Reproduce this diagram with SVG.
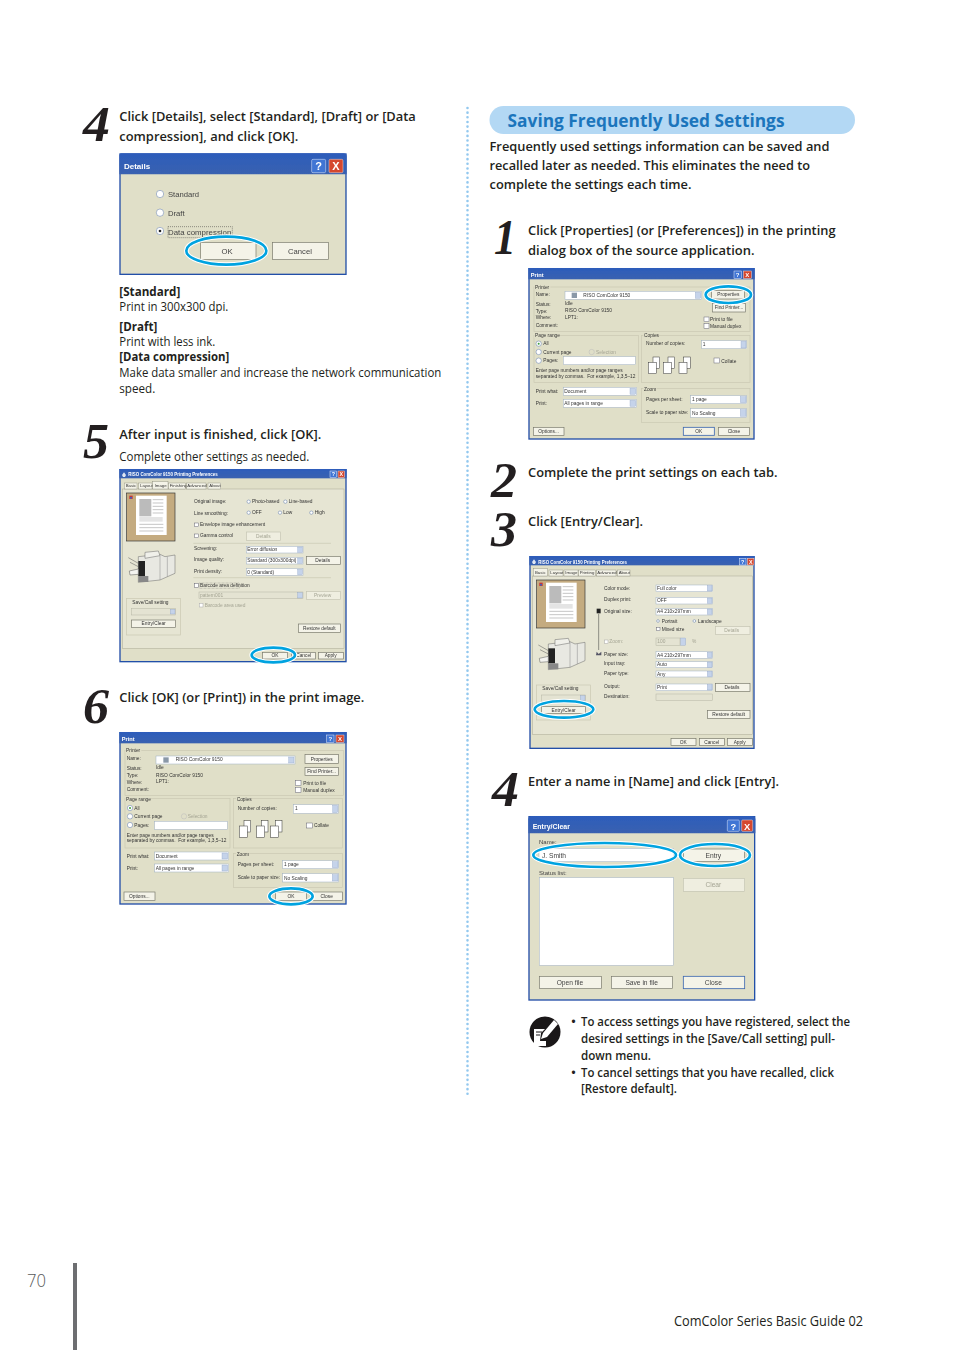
<svg xmlns="http://www.w3.org/2000/svg" xmlns:xlink="http://www.w3.org/1999/xlink" width="954" height="1350" viewBox="0 0 954 1350">
<style>
.p{font-family:"Open Sans","Noto Sans","Liberation Sans",sans-serif;font-size:13.2px;fill:#231f20}
.s{font-weight:600}.bd{font-weight:700}
.n{font-family:"Liberation Serif",serif;font-size:50px;font-weight:700;font-style:italic;fill:#231f20}
.win{fill:#e0dfc8;stroke:#2450a8;stroke-width:4}
.title{fill:url(#tg)}
.tt{font-family:"Liberation Sans",sans-serif;font-weight:700;fill:#fff;font-size:17px}
.t{font-family:"Liberation Sans",sans-serif;font-size:14.5px;fill:#333}
.t2{font-family:"Liberation Sans",sans-serif;font-size:20px;fill:#444}
.dis{fill:#a5a594}
.f{fill:#fff;stroke:#9fb0c4;stroke-width:1.5}
.fd{fill:#e4e3d2;stroke:#b5b5a4;stroke-width:1.5}
.b{fill:#f4f3e8;stroke:#77776a;stroke-width:2}
.bb{fill:#f4f3e8;stroke:#3e68b0;stroke-width:2.5}
.bdz{fill:#efeee0;stroke:#c4c4b2;stroke-width:2}
.g{fill:none;stroke:#c9c8b2;stroke-width:2}
.pan{fill:#e6e5d3;stroke:#a9a996;stroke-width:1.5}
.ck{fill:#fff;stroke:#667;stroke-width:1.5}
.r{fill:#fff;stroke:#5c78a8;stroke-width:1.5}
.ar{fill:#c5d3ea;stroke:#8aa0c4;stroke-width:1}
.help{fill:#3f74d4;stroke:#e8eefc;stroke-width:1.5}
.close{fill:#d5472e;stroke:#f3dcd4;stroke-width:1.5}
.gl{font-family:"Liberation Sans",sans-serif;font-weight:700;fill:#fff;text-anchor:middle}
.h{fill:none;stroke:#fff;stroke-width:14}
.c{fill:none;stroke:#00a3e0;stroke-width:8}
.pg{fill:#fff;stroke:#333;stroke-width:1.5}
.ln{stroke:#c6c6c6;stroke-width:3}
.m{text-anchor:middle}
</style>
<defs>
<linearGradient id="tg" x1="0" y1="0" x2="0" y2="1"><stop offset="0" stop-color="#2c5cbb"/><stop offset="1" stop-color="#3a62b0"/></linearGradient>
<filter id="bl" filterUnits="userSpaceOnUse" x="0" y="0" width="800" height="700"><feGaussianBlur stdDeviation="1.3"/></filter>
<filter id="bl2" filterUnits="userSpaceOnUse" x="0" y="0" width="1000" height="700"><feGaussianBlur stdDeviation="1"/></filter>
<g id="mfp">
<path d="M85 275 L150 268 L165 275 L195 270 L195 325 L150 345 L85 352 Z" fill="#e8e8e2" stroke="#666" stroke-width="1.5"/>
<rect x="85" y="288" width="20" height="45" fill="#222"/>
<rect x="85" y="333" width="30" height="18" fill="#888"/>
<path d="M55 278 L85 295 M60 292 L85 305 M58 318 L85 312 L85 328 L60 330Z" fill="#f4f4f0" stroke="#555" stroke-width="1.5"/>
<path d="M105 262 L145 258 L150 272 L105 280Z" fill="#f0f0ea" stroke="#666" stroke-width="1.5"/>
<path d="M150 272 L150 345 M172 275 L172 335" stroke="#888" stroke-width="1.5" fill="none"/>
</g>
<g id="prev">
<rect x="50" y="84" width="145" height="144" fill="#c4ab80" stroke="#333" stroke-width="2"/>
<rect x="78" y="92" width="92" height="118" fill="#fff"/>
<rect x="88" y="102" width="36" height="52" fill="#bbb"/>
<rect x="88" y="156" width="70" height="14" fill="#e4e4e4"/>
<path class="ln" d="M128 104H160M128 114H160M128 124H160M128 134H160M128 144H160M88 178H160M88 188H160M88 198H160"/>
<rect x="58" y="92" width="10" height="10" fill="#c33"/><circle cx="63" cy="98" r="3" fill="#36c"/>
</g>
<g id="pgs">
<rect x="14" y="0" width="20" height="34" class="pg"/><rect x="0" y="16" width="24" height="34" class="pg"/>
</g>
<path id="ticon" d="M0 10L6 2L12 10L9 16H3Z" fill="#dfe6f2"/>
</defs>

<rect width="954" height="1350" fill="#fff"/>

<g id="divider"><path d="M467.5 108V1097" stroke="#93c8ef" stroke-width="2.6" stroke-linecap="round" stroke-dasharray="0 4.65" fill="none"/></g>

<g id="left-step-4">
<text class="n" x="83" y="141" textLength="27" lengthAdjust="spacingAndGlyphs">4</text>
<text class="p s" x="119.3" y="121" textLength="296.5" lengthAdjust="spacingAndGlyphs">Click [Details], select [Standard], [Draft] or [Data</text>
<text class="p s" x="119.3" y="141" textLength="179" lengthAdjust="spacingAndGlyphs">compression], and click [OK].</text>
<text class="p bd" x="119.3" y="296" textLength="61" lengthAdjust="spacingAndGlyphs">[Standard]</text>
<text class="p" x="119.3" y="311" textLength="109" lengthAdjust="spacingAndGlyphs">Print in 300x300 dpi.</text>
<text class="p bd" x="119.3" y="331" textLength="38" lengthAdjust="spacingAndGlyphs">[Draft]</text>
<text class="p" x="119.3" y="346" textLength="96" lengthAdjust="spacingAndGlyphs">Print with less ink.</text>
<text class="p bd" x="119.3" y="361" textLength="110" lengthAdjust="spacingAndGlyphs">[Data compression]</text>
<text class="p" x="119.3" y="377" textLength="322" lengthAdjust="spacingAndGlyphs">Make data smaller and increase the network communication</text>
<text class="p" x="119.3" y="393" textLength="36" lengthAdjust="spacingAndGlyphs">speed.</text>
</g>

<g id="dialog-details" transform="translate(70,95) scale(.33333)"><g filter="url(#bl2)">
<rect class="win" x="150" y="177" width="678" height="361"/>
<path class="title" d="M148 238V182Q148 175 155 175H820Q830 175 830 185V238Z"/>
<text class="tt" x="162" y="221" style="font-size:24px">Details</text>
<rect class="help" x="725" y="193" width="42" height="40" rx="4"/><text class="gl" x="746" y="226" font-size="33">?</text>
<rect class="close" x="777" y="193" width="42" height="40" rx="4"/><text class="gl" x="798" y="226" font-size="33">X</text>
<circle class="r" cx="270" cy="297" r="11"/><text class="t2" x="294" y="307" style="font-size:23px">Standard</text>
<circle class="r" cx="270" cy="353" r="11"/><text class="t2" x="294" y="364" style="font-size:23px">Draft</text>
<circle class="r" cx="270" cy="408" r="11"/><circle cx="270" cy="408" r="4" fill="#222"/><text class="t2" x="294" y="419" style="font-size:23px" textLength="190" lengthAdjust="spacingAndGlyphs">Data compression</text>
<rect x="294" y="395" width="193" height="33" fill="none" stroke="#333" stroke-width="1.5" stroke-dasharray="3 3"/>
<rect class="b" x="392" y="442" width="166" height="52"/><text class="t2 m" x="471" y="477" style="font-size:23px">OK</text>
<rect class="b" x="608" y="442" width="167" height="52"/><text class="t2 m" x="690" y="477" style="font-size:23px">Cancel</text>
</g>
<ellipse class="h" cx="469" cy="467" rx="120" ry="42"/><ellipse class="c" cx="469" cy="467" rx="120" ry="42"/>
</g>

<g id="left-step-5">
<text class="n" x="83" y="458" textLength="26" lengthAdjust="spacingAndGlyphs">5</text>
<text class="p s" x="119.3" y="439" textLength="202" lengthAdjust="spacingAndGlyphs">After input is finished, click [OK].</text>
<text class="p" x="119.3" y="461" textLength="190" lengthAdjust="spacingAndGlyphs">Complete other settings as needed.</text>
</g>

<g id="dialog-image" transform="translate(110,465) scale(.33333)"><g filter="url(#bl)">
<rect class="win" x="30" y="14" width="678" height="576"/>
<rect class="title" x="28" y="12" width="682" height="28"/>
<use href="#ticon" xlink:href="#ticon" x="36" y="20"/>
<text class="tt" x="55" y="34" style="font-size:13.5px" textLength="268" lengthAdjust="spacingAndGlyphs">RISO ComColor 9150 Printing Preferences</text>
<rect class="help" x="660" y="18" width="20" height="20"/><text class="gl" x="670" y="34" font-size="16">?</text>
<rect class="close" x="684" y="18" width="20" height="20"/><text class="gl" x="694" y="34" font-size="16">X</text>
<rect class="pan" x="38" y="72" width="664" height="478"/>
<rect class="b" x="43" y="54" width="38" height="18" style="stroke-width:1"/><text class="t" x="47" y="67" style="font-size:13px">Basic</text>
<rect class="b" x="86" y="54" width="40" height="18" style="stroke-width:1"/><text class="t" x="90" y="67" style="font-size:13px">Layout</text>
<rect class="b" x="128" y="50" width="46" height="22" style="stroke-width:1"/><text class="t" x="134" y="65" style="font-size:13px">Image</text>
<rect class="b" x="176" y="54" width="50" height="18" style="stroke-width:1"/><text class="t" x="179" y="67" style="font-size:13px">Finishing</text>
<rect class="b" x="230" y="54" width="58" height="18" style="stroke-width:1"/><text class="t" x="232" y="67" style="font-size:13px">Advanced</text>
<rect class="b" x="294" y="54" width="38" height="18" style="stroke-width:1"/><text class="t" x="298" y="67" style="font-size:13px">About</text>
<use href="#prev" xlink:href="#prev"/>
<use href="#mfp" xlink:href="#mfp"/>
<text class="t" x="252" y="115">Original image:</text>
<circle class="r" cx="416" cy="110" r="5"/><text class="t" x="426" y="115">Photo-based</text>
<circle class="r" cx="526" cy="110" r="5"/><text class="t" x="536" y="115">Line-based</text>
<text class="t" x="252" y="149">Line smoothing:</text>
<circle class="r" cx="416" cy="143" r="5"/><text class="t" x="426" y="148">OFF</text>
<circle class="r" cx="510" cy="143" r="5"/><text class="t" x="520" y="148">Low</text>
<circle class="r" cx="604" cy="143" r="5"/><text class="t" x="614" y="148">High</text>
<rect class="ck" x="254" y="174" width="11" height="11"/><text class="t" x="270" y="184">Envelope image enhancement</text>
<rect class="ck" x="254" y="207" width="11" height="11"/><text class="t" x="270" y="217">Gamma control</text>
<rect class="bdz" x="409" y="201" width="103" height="25"/><text class="t dis m" x="460" y="218">Details</text>
<path d="M250 235H663M250 338H663" stroke="#c9c8b2" stroke-width="2"/>
<text class="t" x="252" y="254">Screening:</text>
<rect class="f" x="409" y="244" width="170" height="20"/><rect class="ar" x="563" y="246" width="14" height="16"/><text class="t" x="412" y="259">Error diffusion</text>
<text class="t" x="252" y="289">Image quality:</text>
<rect class="f" x="409" y="277" width="170" height="20"/><rect class="ar" x="563" y="279" width="14" height="16"/><text class="t" x="412" y="292">Standard (300x300dpi)</text>
<rect class="b" x="589" y="274" width="103" height="25"/><text class="t m" x="638" y="291">Details</text>
<text class="t" x="252" y="324">Print density:</text>
<rect class="f" x="409" y="311" width="170" height="20"/><rect class="ar" x="563" y="313" width="14" height="16"/><text class="t" x="412" y="326">0 (Standard)</text>
<rect class="ck" x="254" y="356" width="11" height="11"/><text class="t" x="270" y="366">Barcode area definition</text>
<rect x="268" y="354" width="120" height="16" fill="none" stroke="#555" stroke-dasharray="2 2"/>
<rect class="fd" x="267" y="381" width="312" height="20"/><rect class="ar" x="563" y="383" width="14" height="16"/><text class="t dis" x="270" y="396">pattern001</text>
<rect class="bdz" x="589" y="379" width="103" height="25"/><text class="t dis m" x="638" y="396">Preview</text>
<rect class="ck" x="268" y="415" width="11" height="11" style="stroke:#aaa"/><text class="t dis" x="284" y="426">Barcode area used</text>
<rect class="g" x="50" y="400" width="162" height="110"/>
<text class="t" x="67" y="416">Save/Call setting</text>
<rect class="fd" x="65" y="430" width="132" height="20"/><rect class="ar" x="181" y="433" width="14" height="14"/>
<rect class="b" x="65" y="465" width="132" height="23"/><text class="t m" x="131" y="480">Entry/Clear</text>
<rect class="b" x="565" y="477" width="127" height="25"/><text class="t m" x="628" y="494">Restore default</text>
<rect class="b" x="458" y="562" width="75" height="20"/><text class="t m" x="495" y="577">OK</text>
<rect class="b" x="545" y="562" width="72" height="20"/><text class="t m" x="581" y="577">Cancel</text>
<rect class="b" x="625" y="562" width="75" height="20"/><text class="t m" x="662" y="577">Apply</text>
</g>
<ellipse class="h" cx="490" cy="570" rx="65" ry="22"/><ellipse class="c" cx="490" cy="570" rx="65" ry="22"/>
</g>

<g id="left-step-6">
<text class="n" x="83" y="723" textLength="26" lengthAdjust="spacingAndGlyphs">6</text>
<text class="p s" x="119.3" y="702" textLength="245" lengthAdjust="spacingAndGlyphs">Click [OK] (or [Print]) in the print image.</text>
</g>

<g id="dialog-print-left" transform="translate(110,728) scale(.33333)"><g filter="url(#bl)">
<rect class="win" x="30" y="14" width="678" height="514"/>
<rect class="title" x="28" y="12" width="682" height="34"/>
<text class="tt" x="35" y="40">Print</text>
<rect class="help" x="650" y="21" width="22" height="22"/><text class="gl" x="661" y="39" font-size="18">?</text>
<rect class="close" x="678" y="21" width="24" height="22"/><text class="gl" x="690" y="39" font-size="18">X</text>
<rect class="g" x="45" y="67" width="655" height="136"/><rect x="46" y="60" width="48" height="14" fill="#e0dfc8"/><text class="t" x="48" y="73">Printer</text>
<text class="t" x="50" y="97">Name:</text><rect class="f" x="138" y="84" width="417" height="24"/><rect class="ar" x="536" y="87" width="16" height="18"/><rect x="160" y="88" width="16" height="16" fill="#8a98a8"/><text class="t" x="197" y="100">RISO ComColor 9150</text>
<rect class="b" x="585" y="80" width="101" height="26"/><text class="t m" x="635" y="98">Properties</text>
<rect class="b" x="585" y="118" width="101" height="25"/><text class="t m" x="635" y="135">Find Printer...</text>
<text class="t" x="50" y="127">Status:</text><text class="t" x="138" y="124">Idle</text>
<text class="t" x="50" y="148">Type:</text><text class="t" x="138" y="146">RISO ComColor 9150</text>
<text class="t" x="50" y="167">Where:</text><text class="t" x="138" y="165">LPT1:</text>
<text class="t" x="50" y="190">Comment:</text>
<rect class="ck" x="556" y="158" width="17" height="15"/><text class="t" x="580" y="170">Print to file</text>
<rect class="ck" x="556" y="178" width="17" height="15"/><text class="t" x="580" y="191">Manual duplex</text>
<rect class="g" x="45" y="212" width="315" height="148"/><rect x="46" y="206" width="76" height="14" fill="#e0dfc8"/><text class="t" x="48" y="220">Page range</text>
<circle class="r" cx="60" cy="240" r="8"/><circle cx="60" cy="240" r="3" fill="#3a9a3a"/><text class="t" x="73" y="245">All</text>
<circle class="r" cx="60" cy="265" r="8"/><text class="t" x="73" y="270">Current page</text>
<circle class="r" cx="222" cy="265" r="8" style="stroke:#bbb;fill:none"/><text class="t dis" x="233" y="270">Selection</text>
<circle class="r" cx="60" cy="291" r="8"/><text class="t" x="73" y="296">Pages:</text>
<rect class="f" x="134" y="280" width="218" height="24"/>
<text class="t" x="50" y="326">Enter page numbers and/or page ranges</text>
<text class="t" x="50" y="343" xml:space="preserve">separated by commas.  For example, 1,3,5–12</text>
<rect class="g" x="370" y="212" width="328" height="148"/><rect x="378" y="206" width="46" height="14" fill="#e0dfc8"/><text class="t" x="380" y="220">Copies</text>
<text class="t" x="383" y="245">Number of copies:</text>
<rect class="f" x="550" y="230" width="135" height="26"/><rect class="ar" x="668" y="232" width="15" height="22"/><text class="t" x="555" y="247">1</text>
<use href="#pgs" xlink:href="#pgs" x="388" y="278"/><use href="#pgs" xlink:href="#pgs" x="440" y="278"/><use href="#pgs" xlink:href="#pgs" x="482" y="278"/>
<rect class="ck" x="590" y="285" width="17" height="15"/><text class="t" x="612" y="298">Collate</text>
<text class="t" x="50" y="389">Print what:</text><rect class="f" x="134" y="372" width="222" height="24"/><rect class="ar" x="336" y="375" width="17" height="18"/><text class="t" x="137" y="389">Document</text>
<text class="t" x="50" y="425">Print:</text><rect class="f" x="134" y="408" width="222" height="24"/><rect class="ar" x="336" y="411" width="17" height="18"/><text class="t" x="137" y="425">All pages in range</text>
<rect class="g" x="370" y="376" width="328" height="102"/><rect x="378" y="370" width="40" height="14" fill="#e0dfc8"/><text class="t" x="380" y="383">Zoom</text>
<text class="t" x="383" y="413">Pages per sheet:</text><rect class="f" x="518" y="398" width="168" height="24"/><rect class="ar" x="667" y="401" width="17" height="18"/><text class="t" x="522" y="415">1 page</text>
<text class="t" x="383" y="452">Scale to paper size:</text><rect class="f" x="518" y="437" width="168" height="25"/><rect class="ar" x="667" y="440" width="17" height="19"/><text class="t" x="522" y="455">No Scaling</text>
<rect class="b" x="42" y="492" width="93" height="26"/><text class="t m" x="88" y="510">Options...</text>
<rect class="b" x="497" y="492" width="93" height="26"/><text class="t m" x="543" y="510">OK</text>
<rect class="b" x="604" y="492" width="93" height="26"/><text class="t m" x="650" y="510">Close</text>
</g>
<ellipse class="h" cx="543" cy="505" rx="65" ry="24"/><ellipse class="c" cx="543" cy="505" rx="65" ry="24"/>
</g>

<g id="heading">
<rect x="489.5" y="106" width="365.5" height="28" rx="14" fill="#b3d8f4"/>
<text x="507.5" y="127" font-family="'Open Sans','Noto Sans',sans-serif" font-size="18.5" font-weight="700" fill="#1b75bc" textLength="277" lengthAdjust="spacingAndGlyphs">Saving Frequently Used Settings</text>
</g>
<g id="intro">
<text class="p s" x="489.5" y="151" textLength="340" lengthAdjust="spacingAndGlyphs">Frequently used settings information can be saved and</text>
<text class="p s" x="489.5" y="170" textLength="320.5" lengthAdjust="spacingAndGlyphs">recalled later as needed. This eliminates the need to</text>
<text class="p s" x="489.5" y="189" textLength="202" lengthAdjust="spacingAndGlyphs">complete the settings each time.</text>
</g>
<g id="right-step-1">
<text class="n" x="494" y="254" textLength="22" lengthAdjust="spacingAndGlyphs">1</text>
<text class="p s" x="528" y="235" textLength="307.5" lengthAdjust="spacingAndGlyphs">Click [Properties] (or [Preferences]) in the printing</text>
<text class="p s" x="528" y="255" textLength="226.5" lengthAdjust="spacingAndGlyphs">dialog box of the source application.</text>
</g>

<g id="dialog-print-right" transform="translate(520,262) scale(.33333)"><g filter="url(#bl)">
<rect class="win" x="27" y="20" width="675" height="511"/>
<rect class="title" x="25" y="18" width="679" height="34"/>
<text class="tt" x="32" y="45">Print</text>
<rect class="help" x="642" y="27" width="22" height="22"/><text class="gl" x="653" y="45" font-size="18">?</text>
<rect class="close" x="670" y="27" width="24" height="22"/><text class="gl" x="682" y="45" font-size="18">X</text>
<rect class="g" x="42" y="75" width="648" height="133"/><rect x="43" y="68" width="48" height="14" fill="#e0dfc8"/><text class="t" x="45" y="81">Printer</text>
<text class="t" x="47" y="103">Name:</text><rect class="f" x="135" y="88" width="410" height="24"/><rect class="ar" x="526" y="91" width="16" height="18"/><rect x="155" y="92" width="16" height="16" fill="#8a98a8"/><text class="t" x="190" y="105">RISO ComColor 9150</text>
<rect class="b" x="575" y="86" width="98" height="25"/><text class="t m" x="625" y="103">Properties</text>
<rect class="b" x="577" y="125" width="100" height="25"/><text class="t m" x="627" y="142">Find Printer...</text>
<text class="t" x="47" y="133">Status:</text><text class="t" x="135" y="130">Idle</text>
<text class="t" x="47" y="153">Type:</text><text class="t" x="135" y="151">RISO ComColor 9150</text>
<text class="t" x="47" y="172">Where:</text><text class="t" x="135" y="170">LPT1:</text>
<text class="t" x="47" y="196">Comment:</text>
<rect class="ck" x="552" y="165" width="15" height="14"/><text class="t" x="570" y="176">Print to file</text>
<rect class="ck" x="552" y="185" width="15" height="14"/><text class="t" x="570" y="197">Manual duplex</text>
<rect class="g" x="42" y="220" width="313" height="142"/><rect x="43" y="214" width="76" height="14" fill="#e0dfc8"/><text class="t" x="45" y="226">Page range</text>
<circle class="r" cx="56" cy="245" r="8"/><circle cx="56" cy="245" r="3" fill="#3a9a3a"/><text class="t" x="70" y="250">All</text>
<circle class="r" cx="56" cy="270" r="8"/><text class="t" x="70" y="275">Current page</text>
<circle class="r" cx="215" cy="270" r="8" style="stroke:#bbb;fill:none"/><text class="t dis" x="228" y="275">Selection</text>
<circle class="r" cx="56" cy="296" r="8"/><text class="t" x="70" y="301">Pages:</text>
<rect class="f" x="130" y="284" width="216" height="24"/>
<text class="t" x="47" y="331">Enter page numbers and/or page ranges</text>
<text class="t" x="47" y="347" xml:space="preserve">separated by commas.  For example, 1,3,5–12</text>
<rect class="g" x="364" y="220" width="326" height="142"/><rect x="370" y="214" width="46" height="14" fill="#e0dfc8"/><text class="t" x="372" y="226">Copies</text>
<text class="t" x="378" y="250">Number of copies:</text>
<rect class="f" x="545" y="236" width="135" height="24"/><rect class="ar" x="663" y="238" width="15" height="20"/><text class="t" x="548" y="252">1</text>
<use href="#pgs" xlink:href="#pgs" x="385" y="285"/><use href="#pgs" xlink:href="#pgs" x="430" y="285"/><use href="#pgs" xlink:href="#pgs" x="477" y="285"/>
<rect class="ck" x="582" y="288" width="17" height="15"/><text class="t" x="604" y="302">Collate</text>
<text class="t" x="47" y="393">Print what:</text><rect class="f" x="130" y="376" width="220" height="24"/><rect class="ar" x="330" y="379" width="17" height="18"/><text class="t" x="133" y="393">Document</text>
<text class="t" x="47" y="428">Print:</text><rect class="f" x="130" y="412" width="220" height="24"/><rect class="ar" x="330" y="415" width="17" height="18"/><text class="t" x="133" y="429">All pages in range</text>
<rect class="g" x="364" y="379" width="326" height="103"/><rect x="370" y="373" width="40" height="14" fill="#e0dfc8"/><text class="t" x="372" y="386">Zoom</text>
<text class="t" x="378" y="416">Pages per sheet:</text><rect class="f" x="512" y="401" width="168" height="24"/><rect class="ar" x="661" y="404" width="17" height="18"/><text class="t" x="516" y="418">1 page</text>
<text class="t" x="378" y="455">Scale to paper size:</text><rect class="f" x="512" y="440" width="168" height="26"/><rect class="ar" x="661" y="443" width="17" height="20"/><text class="t" x="516" y="458">No Scaling</text>
<rect class="b" x="40" y="496" width="92" height="24"/><text class="t m" x="86" y="513">Options...</text>
<rect class="bb" x="490" y="496" width="93" height="24"/><text class="t m" x="536" y="513">OK</text>
<rect class="b" x="596" y="496" width="92" height="24"/><text class="t m" x="642" y="513">Close</text>
</g>
<ellipse class="h" cx="625" cy="98" rx="68" ry="25"/><ellipse class="c" cx="625" cy="98" rx="68" ry="25"/>
</g>

<g id="right-step-2">
<text class="n" x="491" y="497" textLength="26" lengthAdjust="spacingAndGlyphs">2</text>
<text class="p s" x="528" y="477" textLength="249.5" lengthAdjust="spacingAndGlyphs">Complete the print settings on each tab.</text>
</g>
<g id="right-step-3">
<text class="n" x="491" y="546" textLength="26" lengthAdjust="spacingAndGlyphs">3</text>
<text class="p s" x="528" y="526" textLength="115" lengthAdjust="spacingAndGlyphs">Click [Entry/Clear].</text>
</g>

<g id="dialog-basic" transform="translate(520,550) scale(.33333)"><g filter="url(#bl)">
<rect class="win" x="30" y="20" width="672" height="575"/>
<rect class="title" x="28" y="18" width="676" height="28"/>
<use href="#ticon" xlink:href="#ticon" x="36" y="26"/>
<text class="tt" x="55" y="41" style="font-size:13.5px" textLength="266" lengthAdjust="spacingAndGlyphs">RISO ComColor 9150 Printing Preferences</text>
<rect class="help" x="658" y="25" width="20" height="20"/><text class="gl" x="668" y="41" font-size="16">?</text>
<rect class="close" x="682" y="25" width="20" height="20"/><text class="gl" x="692" y="41" font-size="16">X</text>
<rect class="pan" x="38" y="78" width="659" height="475"/>
<rect class="b" x="40" y="56" width="42" height="22" style="stroke-width:1"/><text class="t" x="45" y="71" style="font-size:13px">Basic</text>
<rect class="b" x="87" y="60" width="42" height="18" style="stroke-width:1"/><text class="t" x="91" y="73" style="font-size:13px">Layout</text>
<rect class="b" x="132" y="60" width="42" height="18" style="stroke-width:1"/><text class="t" x="136" y="73" style="font-size:13px">Image</text>
<rect class="b" x="176" y="60" width="50" height="18" style="stroke-width:1"/><text class="t" x="179" y="73" style="font-size:13px">Printing</text>
<rect class="b" x="230" y="60" width="58" height="18" style="stroke-width:1"/><text class="t" x="232" y="73" style="font-size:13px">Advanced</text>
<rect class="b" x="292" y="60" width="38" height="18" style="stroke-width:1"/><text class="t" x="296" y="73" style="font-size:13px">About</text>
<use href="#prev" xlink:href="#prev" y="6"/>
<use href="#mfp" xlink:href="#mfp" y="7"/>
<text class="t" x="252" y="120">Color mode:</text><rect class="f" x="408" y="105" width="170" height="20"/><rect class="ar" x="562" y="107" width="14" height="16"/><text class="t" x="411" y="120">Full color</text>
<text class="t" x="252" y="152">Duplex print:</text><rect class="f" x="408" y="142" width="170" height="20"/><rect class="ar" x="562" y="144" width="14" height="16"/><text class="t" x="411" y="157">OFF</text>
<rect x="230" y="176" width="12" height="14" fill="#222"/><path d="M236 192V300" stroke="#333" stroke-width="1.5"/>
<text class="t" x="252" y="188">Original size:</text><rect class="f" x="408" y="175" width="170" height="20"/><rect class="ar" x="562" y="177" width="14" height="16"/><text class="t" x="411" y="190">A4 210x297mm</text>
<circle class="r" cx="414" cy="213" r="4"/><text class="t" x="425" y="218">Portrait</text>
<circle class="r" cx="523" cy="213" r="4"/><text class="t" x="534" y="218">Landscape</text>
<rect class="ck" x="410" y="232" width="10" height="10"/><text class="t" x="425" y="243">Mixed size</text>
<rect class="bdz" x="586" y="230" width="104" height="24"/><text class="t dis m" x="635" y="247">Details</text>
<rect class="ck" x="254" y="270" width="10" height="10" style="stroke:#aaa"/><text class="t dis" x="268" y="280">Zoom:</text>
<rect class="fd" x="408" y="264" width="72" height="22"/><text class="t dis" x="412" y="280">100</text><rect class="ar" x="482" y="264" width="15" height="22"/><text class="t dis" x="516" y="280">%</text>
<path d="M230 305L236 312L244 305V316H228Z" fill="#556"/>
<text class="t" x="252" y="317">Paper size:</text><rect class="f" x="408" y="305" width="170" height="20"/><rect class="ar" x="562" y="307" width="14" height="16"/><text class="t" x="411" y="320">A4 210x297mm</text>
<text class="t" x="252" y="345">Input tray:</text><rect class="f" x="408" y="335" width="170" height="18"/><rect class="ar" x="562" y="336" width="14" height="16"/><text class="t" x="411" y="349">Auto</text>
<text class="t" x="252" y="374">Paper type:</text><rect class="f" x="408" y="363" width="170" height="18"/><rect class="ar" x="562" y="364" width="14" height="16"/><text class="t" x="411" y="377">Any</text>
<text class="t" x="252" y="415">Output:</text><rect class="f" x="408" y="402" width="170" height="20"/><rect class="ar" x="562" y="404" width="14" height="16"/><text class="t" x="411" y="417">Print</text>
<rect class="b" x="586" y="400" width="104" height="24"/><text class="t m" x="636" y="417">Details</text>
<text class="t" x="252" y="444">Destination:</text><rect class="fd" x="408" y="432" width="170" height="20"/>
<rect class="b" x="563" y="482" width="127" height="24"/><text class="t m" x="626" y="499">Restore default</text>
<rect class="g" x="50" y="405" width="162" height="105"/><text class="t" x="67" y="420">Save/Call setting</text>
<rect class="fd" x="65" y="435" width="132" height="20"/><rect class="ar" x="181" y="437" width="14" height="15"/>
<rect class="b" x="65" y="470" width="132" height="20"/><text class="t m" x="131" y="485">Entry/Clear</text>
<rect class="b" x="453" y="566" width="75" height="20"/><text class="t m" x="490" y="581">OK</text>
<rect class="b" x="538" y="566" width="75" height="20"/><text class="t m" x="575" y="581">Cancel</text>
<rect class="b" x="622" y="566" width="75" height="20"/><text class="t m" x="659" y="581">Apply</text>
</g>
<ellipse class="h" cx="132" cy="478" rx="88" ry="25"/><ellipse class="c" cx="132" cy="478" rx="88" ry="25"/>
</g>

<g id="right-step-4">
<text class="n" x="492" y="806" textLength="27" lengthAdjust="spacingAndGlyphs">4</text>
<text class="p s" x="528" y="786" textLength="251" lengthAdjust="spacingAndGlyphs">Enter a name in [Name] and click [Entry].</text>
</g>

<g id="dialog-entry" transform="translate(520,810) scale(.33333)"><g filter="url(#bl2)">
<rect class="win" x="27" y="20" width="677" height="550"/>
<path class="title" d="M25 70V28Q25 18 35 18H696Q706 18 706 28V70Z"/>
<text class="tt" x="38" y="57" style="font-size:21px">Entry/Clear</text>
<rect class="help" x="622" y="30" width="36" height="34" rx="3"/><text class="gl" x="640" y="59" font-size="28">?</text>
<rect class="close" x="665" y="30" width="33" height="34" rx="3"/><text class="gl" x="681" y="59" font-size="28">X</text>
<text class="t2" x="57" y="103" style="font-size:18px">Name:</text>
<rect class="f" x="57" y="115" width="403" height="40"/><text class="t2" x="66" y="143" fill="#222">J. Smith</text>
<text class="t2" x="57" y="194" style="font-size:18px">Status list:</text>
<rect class="f" x="58" y="203" width="402" height="263"/>
<rect class="b" x="490" y="117" width="184" height="38"/><text class="t2 m" x="580" y="143">Entry</text>
<rect class="bdz" x="490" y="205" width="184" height="39"/><text class="t2 dis m" x="580" y="231">Clear</text>
<rect class="b" x="58" y="499" width="186" height="37"/><text class="t2 m" x="150" y="524">Open file</text>
<rect class="b" x="274" y="499" width="184" height="37"/><text class="t2 m" x="365" y="524">Save in file</text>
<rect class="bb" x="490" y="499" width="184" height="37"/><text class="t2 m" x="580" y="524">Close</text>
</g>
<ellipse class="h" cx="254" cy="135" rx="214" ry="36"/><ellipse class="c" cx="254" cy="135" rx="214" ry="36"/>
<ellipse class="h" cx="585" cy="135" rx="105" ry="33"/><ellipse class="c" cx="585" cy="135" rx="105" ry="33"/>
</g>

<g id="note">
<circle cx="545" cy="1032" r="15.5" fill="#1a1718"/>
<path d="M547 1037L558 1024L554 1020L543 1033L541 1039Z" fill="#fff"/>
<path d="M534 1029H545L541 1033L540 1041L546 1041V1046H534Z" fill="#fff"/>
<path d="M536 1032H542M536 1035H540" stroke="#1a1718" stroke-width="1"/>
<text class="p s" x="571" y="1026">•</text>
<text class="p s" x="581" y="1026" textLength="269" lengthAdjust="spacingAndGlyphs">To access settings you have registered, select the</text>
<text class="p s" x="581" y="1043" textLength="254" lengthAdjust="spacingAndGlyphs">desired settings in the [Save/Call setting] pull-</text>
<text class="p s" x="581" y="1060" textLength="70" lengthAdjust="spacingAndGlyphs">down menu.</text>
<text class="p s" x="571" y="1077">•</text>
<text class="p s" x="581" y="1077" textLength="253" lengthAdjust="spacingAndGlyphs">To cancel settings that you have recalled, click</text>
<text class="p s" x="581" y="1093" textLength="96" lengthAdjust="spacingAndGlyphs">[Restore default].</text>
</g>

<g id="footer">
<rect x="73" y="1263" width="4" height="87" fill="#6d6e71"/>
<text x="27" y="1287" font-family="'Open Sans','Noto Sans',sans-serif" font-size="18" font-weight="300" fill="#58595b" textLength="19" lengthAdjust="spacingAndGlyphs">70</text>
<text x="674" y="1326" font-family="'Open Sans','Noto Sans',sans-serif" font-size="14" fill="#231f20" textLength="189" lengthAdjust="spacingAndGlyphs">ComColor Series Basic Guide 02</text>
</g>
</svg>
